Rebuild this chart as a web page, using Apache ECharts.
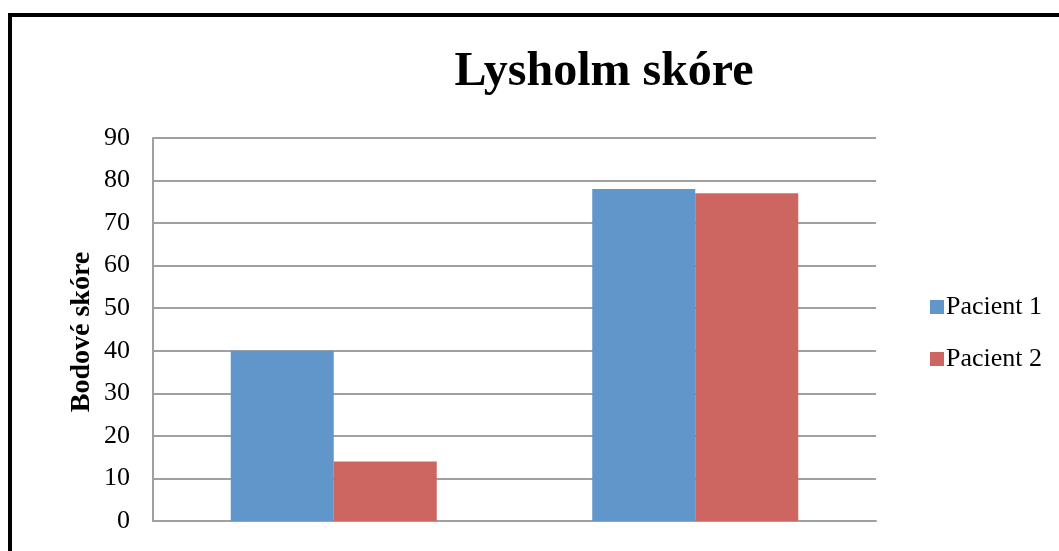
<!DOCTYPE html>
<html>
<head>
<meta charset="utf-8">
<script src="https://cdn.jsdelivr.net/npm/echarts@6/dist/echarts.min.js"></script>
<style>
html, body { margin: 0; padding: 0; background: #fff; }
#main { width: 1059px; height: 551px; }
</style>
</head>
<body>
<div id="main"></div>
<script>
// data
var categories = ['1', '2'];
var pacient1 = [40, 78];
var pacient2 = [14, 77];
var seriesNames = ['Pacient 1', 'Pacient 2'];
var yTicks = { min: 0, max: 90, interval: 10 };

var serif = '"Liberation Serif", "Times New Roman", serif';
var myChart = echarts.init(document.getElementById('main'));

var option = {
    backgroundColor: '#ffffff',
    animation: false,
    title: {
        text: 'Lysholm skóre',
        left: 599,
        top: 44,
        textAlign: 'center',
        textStyle: { fontFamily: serif, fontSize: 48, fontWeight: 'bold', color: '#000' }
    },
    legend: {
        orient: 'vertical',
        left: 925,
        top: 289,
        itemWidth: 14,
        itemHeight: 14,
        itemGap: 26,
        icon: 'rect',
        data: seriesNames,
        textStyle: { fontFamily: serif, fontSize: 26, color: '#000', lineHeight: 22, padding: [0, 0, 0, -3] }
    },
    graphic: [
        {
            type: 'rect',
            shape: { x: 10, y: 15, width: 1200, height: 700 },
            style: { fill: 'none', stroke: '#000', lineWidth: 4 },
            silent: true
        },
        {
            type: 'text',
            x: 82,
            y: 332,
            rotation: Math.PI / 2,
            style: {
                text: 'Bodové skóre',
                fontFamily: serif,
                fontSize: 28,
                fontWeight: 'bold',
                fill: '#000',
                textAlign: 'center',
                textVerticalAlign: 'middle'
            }
        }
    ],
    grid: { left: 153, right: 183, top: 138, bottom: 30 },
    xAxis: {
        type: 'category',
        data: categories,
        axisLine: { show: true, lineStyle: { color: '#a0a0a0', width: 2 } },
        axisTick: { show: false },
        axisLabel: { show: false },
        splitLine: { show: false }
    },
    yAxis: {
        type: 'value',
        min: yTicks.min,
        max: yTicks.max,
        interval: yTicks.interval,
        axisLine: { show: true, lineStyle: { color: '#a0a0a0', width: 2 } },
        axisTick: { show: false },
        axisLabel: { margin: 23, fontFamily: serif, fontSize: 26, color: '#000' },
        splitLine: { lineStyle: { color: '#a0a0a0', width: 2 } }
    },
    series: [
        {
            name: seriesNames[0],
            type: 'bar',
            data: pacient1,
            barWidth: 103,
            barGap: '0%',
            itemStyle: { color: '#6096CA' }
        },
        {
            name: seriesNames[1],
            type: 'bar',
            data: pacient2,
            barWidth: 103,
            barGap: '0%',
            itemStyle: { color: '#CD6660' }
        }
    ]
};

myChart.setOption(option);
</script>
</body>
</html>
